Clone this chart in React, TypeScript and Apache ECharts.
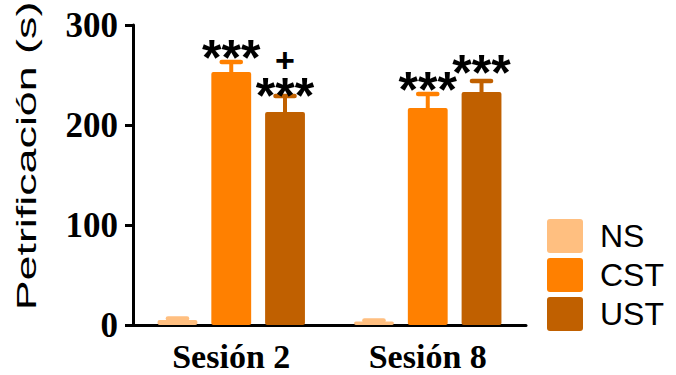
import React, { useEffect, useRef } from "react";
import * as echarts from "echarts";

const categories = ["Sesión 2", "Sesión 8"];
const seriesNames = ["NS", "CST", "UST"];
const colors = ["#FFBF80", "#FF8000", "#C06000"];

const nsMean = [5, 3.5];
const nsErr = [1.5, 1];
const cstMean = [253, 217];
const cstErr = [10, 14];
const ustMean = [213, 233];
const ustErr = [16, 11];

// annotations: text and the value at which the glyph centre sits
const cstStars = ["***", "***"];
const cstStarsY = [275, 243];
const ustStars = ["***", "***"];
const ustStarsY = [237, 260];
const ustPlus = ["+", ""];
const ustPlusY = [264, 0];

const yTicks = [0, 100, 200, 300];

const means = [nsMean, cstMean, ustMean];
const errs = [nsErr, cstErr, ustErr];

const BAR_CAT_GAP = 0.25;
const BAR_GAP = 0.35;

function barGeom(api: any) {
  const band = api.size([1, 0])[0];
  const barW = (band * (1 - BAR_CAT_GAP)) / (3 + 2 * BAR_GAP);
  const step = barW * (1 + BAR_GAP);
  return { barW, step };
}

export default function App() {
  const ref = useRef<HTMLDivElement>(null);
  useEffect(() => {
    if (!ref.current) return;
    const chart = echarts.init(ref.current, undefined, { renderer: "svg" });

    const barSeries = seriesNames.map((name, k) => ({
      name,
      type: "bar",
      data: means[k],
      barGap: `${BAR_GAP * 100}%`,
      barCategoryGap: `${BAR_CAT_GAP * 100}%`,
      itemStyle: { color: colors[k], borderRadius: 2 },
      z: 2,
    }));

    const errSeries = seriesNames.map((name, k) => ({
      name: name + "-err",
      type: "custom",
      data: means[k].map((m, i) => [i, m, m + errs[k][i]]),
      encode: { x: 0, y: [1, 2] },
      z: 3,
      silent: true,
      renderItem: (params: any, api: any) => {
        const cat = api.value(0);
        const topP = api.coord([cat, api.value(1)]);
        const capP = api.coord([cat, api.value(2)]);
        const { barW, step } = barGeom(api);
        const cx = topP[0] + (k - 1) * step;
        const capW = barW * 0.48;
        const children: any[] = [
          {
            type: "line",
            shape: { x1: cx, y1: topP[1], x2: cx, y2: capP[1] },
            style: { stroke: colors[k], lineWidth: 4 },
          },
          {
            type: "line",
            shape: { x1: cx - capW / 2, y1: capP[1], x2: cx + capW / 2, y2: capP[1] },
            style: { stroke: colors[k], lineWidth: 4.5, lineCap: "round" },
          },
        ];
        const i = params.dataIndex;
        const addText = (txt: string, val: number, fs: number, shift: number, lh: number) => {
          if (!txt) return;
          const p = api.coord([cat, val]);
          children.push({
            type: "text",
            x: cx,
            y: p[1] + shift,
            style: {
              text: txt,
              fill: "#000",
              fontSize: fs,
              fontWeight: "bold",
              fontFamily: "'Liberation Sans', Arial, sans-serif",
              lineHeight: lh,
              align: "center",
              verticalAlign: "middle",
            },
          });
        };
        if (k === 1) addText(cstStars[i], cstStarsY[i], 50, 8, 36);
        if (k === 2) {
          addText(ustStars[i], ustStarsY[i], 50, 8, 36);
          addText(ustPlus[i], ustPlusY[i], 34, -1, 24);
        }
        return { type: "group", children };
      },
    }));

    const option: any = {
      animation: false,
      grid: { left: 133, right: 150, top: 25, bottom: 50, containLabel: false },
      legend: {
        data: seriesNames,
        orient: "vertical",
        left: 547,
        top: 219,
        padding: 0,
        itemWidth: 36,
        itemHeight: 34,
        itemGap: 5,
        icon: "path://M3,0H33A3,3 0 0 1 36,3V31A3,3 0 0 1 33,34H3A3,3 0 0 1 0,31V3A3,3 0 0 1 3,0Z",
        textStyle: {
          fontFamily: "'Liberation Sans', Arial, sans-serif",
          fontSize: 32,
          color: "#000",
          padding: [0, 0, 0, 12],
        },
      },
      xAxis: {
        type: "category",
        data: categories,
        axisLine: { lineStyle: { color: "#000", width: 3 } },
        axisTick: { show: false },
        axisLabel: {
          color: "#000",
          fontFamily: "'Liberation Serif', 'Times New Roman', serif",
          fontWeight: "bold",
          fontSize: 34,
          margin: 14,
        },
      },
      yAxis: {
        type: "value",
        min: 0,
        max: 300,
        interval: 100,
        axisLine: { show: true, lineStyle: { color: "#000", width: 3 } },
        axisTick: { show: true, length: 8, lineStyle: { color: "#000", width: 3 } },
        splitLine: { show: false },
        axisLabel: {
          color: "#000",
          fontFamily: "'Liberation Serif', 'Times New Roman', serif",
          fontWeight: "bold",
          fontSize: 35,
          margin: 15,
          formatter: (v: number) => (yTicks.includes(v) ? String(v) : ""),
        },
      },
      graphic: [
        {
          type: "group",
          x: 27,
          y: 156,
          rotation: Math.PI / 2,
          children: [
            {
              type: "group",
              scaleX: 1.66,
              children: [
                {
                  type: "text",
                  x: 0,
                  y: 0,
                  style: {
                    text: "Petrificación (s)",
                    fill: "#000",
                    fontSize: 27,
                    fontFamily: "'Liberation Sans', Arial, sans-serif",
                    align: "center",
                    verticalAlign: "middle",
                  },
                },
              ],
            },
          ],
        },
      ],
      series: [...barSeries, ...errSeries],
    };
    chart.setOption(option);
    return () => chart.dispose();
  }, []);
  return (
    <div
      ref={ref}
      style={{ position: "absolute", left: 0, top: 0, width: 676, height: 375 }}
    />
  );
}
